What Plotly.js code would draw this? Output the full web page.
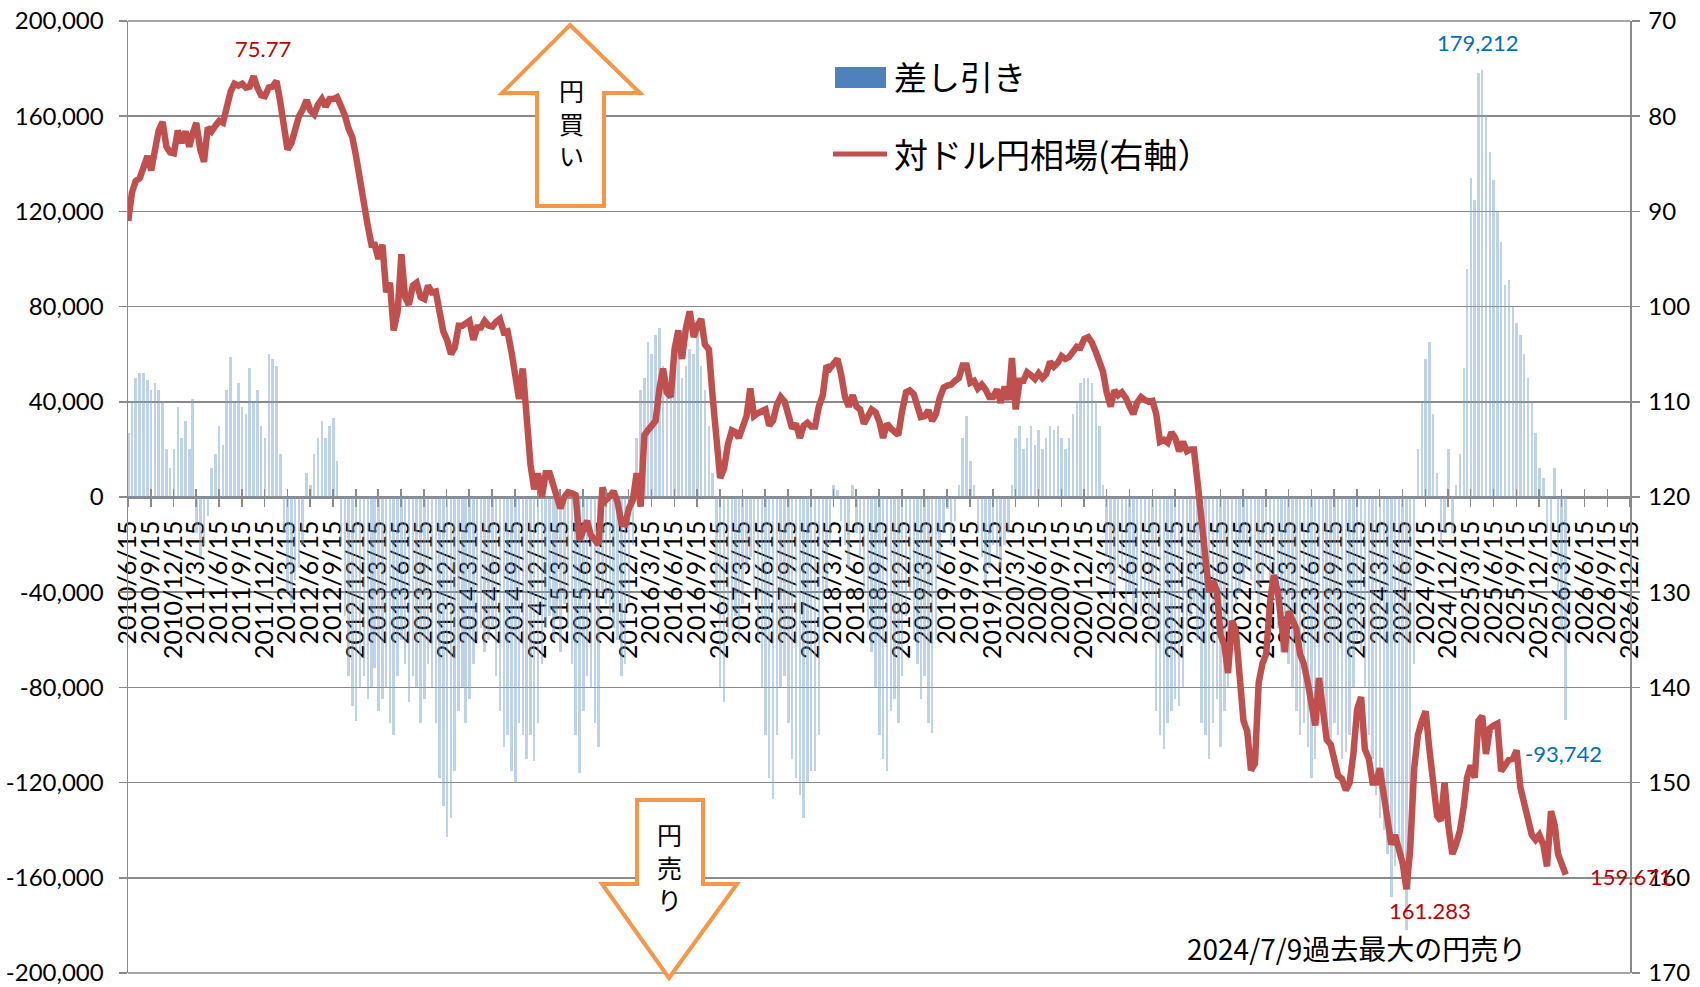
<!DOCTYPE html>
<html><head><meta charset="utf-8">
<script src="https://cdn.plot.ly/plotly-3.0.1.min.js"></script>
<style>html,body{margin:0;padding:0;background:#fff}#chart{width:1700px;height:987px}</style>
</head><body><div id="chart"></div>
<script>
// ---- USD/JPY (right axis), two readings per month (1st and 16th) ----
const fx2010 = [91.0, 88.0, 86.8, 86.5, 85.4, 84.2, 85.7, 83.5, 81.5, 80.6, 83.2, 83.8, 83.9]; // from Jun 16
const fx2011 = [81.5, 82.8, 81.6, 83.2, 81.9, 80.7, 83.5, 84.8, 81.2, 81.6, 81.0, 80.5, 80.7, 79.0, 77.4, 76.6, 76.8, 76.6, 77.0, 76.9, 75.8, 77.0, 77.8, 77.9];
const fx2012 = [77.0, 76.9, 76.3, 78.5, 81.0, 83.5, 82.8, 81.0, 80.0, 79.3, 78.3, 79.4, 79.8, 78.8, 78.2, 79.0, 78.2, 78.2, 78.0, 78.9, 79.9, 81.3, 82.2, 84.2];
const fx2013 = [87.0, 89.5, 91.5, 93.5, 93.5, 95.0, 93.5, 98.5, 97.5, 102.5, 100.5, 94.5, 99.0, 99.8, 97.8, 97.5, 99.0, 99.2, 97.8, 98.5, 98.4, 100.5, 102.6, 103.5];
const fx2014 = [105.0, 104.3, 102.0, 102.0, 101.8, 101.5, 103.5, 102.2, 102.2, 101.5, 102.0, 102.1, 101.6, 101.3, 102.7, 102.6, 104.8, 107.2, 109.7, 106.5, 112.5, 116.6, 119.2, 117.5];
const fx2015 = [120.0, 117.5, 117.5, 118.8, 119.7, 121.2, 120.0, 119.5, 119.6, 119.8, 124.5, 123.4, 122.5, 124.0, 124.5, 125.0, 119.0, 120.3, 119.9, 119.4, 120.6, 122.8, 122.9, 121.2];
const fx2016 = [120.3, 117.5, 121.0, 113.5, 113.0, 112.5, 112.0, 108.7, 106.5, 109.0, 109.5, 104.5, 102.5, 105.5, 102.2, 100.5, 103.2, 102.0, 101.3, 104.0, 104.5, 109.5, 114.0, 118.0];
const fx2017 = [117.0, 114.5, 113.0, 113.2, 113.8, 112.5, 111.5, 108.6, 111.5, 111.2, 111.0, 110.8, 112.5, 112.0, 110.3, 109.5, 110.0, 111.2, 112.8, 112.3, 113.8, 112.5, 112.2, 112.6];
const fx2018 = [112.6, 110.5, 109.3, 106.2, 106.5, 106.0, 105.5, 107.2, 109.5, 110.5, 109.3, 110.5, 110.8, 112.3, 111.5, 110.8, 111.1, 112.1, 113.8, 112.3, 112.8, 113.2, 113.5, 111.0];
const fx2019 = [109.0, 108.8, 109.2, 110.5, 111.6, 111.5, 110.9, 112.0, 111.3, 109.6, 108.5, 108.3, 108.2, 107.8, 107.5, 106.2, 106.2, 108.0, 107.8, 108.6, 108.2, 108.7, 109.5, 109.5];
const fx2020 = [108.7, 110.1, 108.4, 109.8, 105.4, 110.8, 107.8, 107.8, 106.9, 107.2, 107.6, 107.0, 107.5, 107.1, 105.8, 106.3, 105.9, 105.2, 105.5, 105.3, 104.7, 104.2, 104.3, 103.4];
const fx2021 = [103.2, 103.8, 104.8, 105.8, 106.8, 109.0, 110.5, 108.8, 109.3, 109.0, 109.6, 110.5, 111.3, 110.1, 109.5, 109.8, 110.0, 109.9, 111.3, 114.2, 114.0, 114.3, 113.2, 113.8];
const fx2022 = [115.2, 114.2, 115.2, 115.0, 115.0, 118.5, 122.5, 126.5, 130.0, 128.8, 129.8, 134.5, 135.5, 138.5, 133.0, 134.0, 139.5, 143.5, 144.6, 148.7, 148.0, 139.5, 137.5, 136.5];
const fx2023 = [131.0, 128.2, 130.0, 134.0, 136.3, 132.0, 132.8, 133.8, 136.5, 137.5, 139.5, 141.5, 144.0, 139.0, 142.8, 145.5, 146.0, 147.8, 149.3, 149.6, 150.8, 150.0, 147.0, 142.3];
const fx2024 = [141.0, 146.5, 147.5, 150.0, 150.0, 148.5, 151.3, 154.5, 156.5, 155.5, 157.0, 158.5, 161.2, 157.0, 148.5, 145.0, 143.5, 142.5, 146.5, 150.0, 153.5, 154.0, 150.0, 154.5];
const fx2025 = [157.5, 156.5, 155.0, 152.5, 149.5, 148.2, 149.5, 143.5, 143.0, 147.0, 144.3, 144.0, 143.8, 148.8, 148.2, 147.6, 147.5, 146.6, 150.5, 152.0, 153.5, 155.5, 156.0, 155.5];
const fx2026 = [156.5, 158.8, 153.0, 154.5, 157.5, 158.6, 159.67];

// ---- 差し引き (net position, contracts), same dates ----
const net2010 = [27000, 40000, 50000, 52000, 52000, 49000, 45000, 48000, 45000, 40000, 20000, 12000, 20000];
const net2011 = [38000, 25000, 32000, 20000, 41000, -15000, -25000, -20000, -8000, 12000, 18000, 30000, 22000, 45000, 59000, 40000, 48000, 38000, 35000, 54000, 40000, 45000, 30000, 25000];
const net2012 = [60000, 58000, 55000, 18000, -15000, -40000, -45000, -35000, -30000, -20000, 10000, 5000, 18000, 25000, 32000, 25000, 30000, 33000, 15000, -20000, -50000, -75000, -88000, -94000];
const net2013 = [-80000, -75000, -85000, -80000, -72000, -90000, -85000, -80000, -95000, -100000, -75000, -60000, -70000, -86000, -75000, -80000, -95000, -85000, -70000, -80000, -95000, -118000, -130000, -143000];
const net2014 = [-135000, -115000, -90000, -80000, -95000, -85000, -70000, -60000, -55000, -65000, -60000, -55000, -75000, -90000, -105000, -100000, -115000, -120000, -95000, -100000, -110000, -100000, -111000, -95000];
const net2015 = [-70000, -55000, -50000, -60000, -50000, -65000, -45000, -55000, -70000, -100000, -116000, -90000, -75000, -80000, -95000, -105000, -40000, -45000, -50000, -55000, -60000, -75000, -70000, -45000];
const net2016 = [-20000, 25000, 45000, 50000, 65000, 60000, 68000, 71000, 55000, 50000, 45000, 55000, 62000, 50000, 55000, 62000, 60000, 70000, 55000, 45000, 30000, 10000, -40000, -80000];
const net2017 = [-86000, -60000, -55000, -50000, -60000, -45000, -30000, -25000, -40000, -60000, -80000, -100000, -118000, -127000, -100000, -80000, -75000, -95000, -110000, -118000, -125000, -135000, -120000, -115000];
const net2018 = [-115000, -100000, -60000, -40000, -20000, 5000, 3000, -10000, -20000, -30000, 5000, -15000, -25000, -40000, -55000, -65000, -80000, -100000, -110000, -115000, -90000, -85000, -95000, -75000];
const net2019 = [-50000, -40000, -60000, -70000, -85000, -75000, -95000, -99000, -60000, -30000, -15000, -5000, -20000, -10000, 5000, 25000, 34000, 15000, 5000, -15000, -25000, -35000, -30000, -20000];
const net2020 = [-25000, -30000, -20000, -15000, 5000, 25000, 30000, 20000, 25000, 30000, 22000, 28000, 20000, 25000, 30000, 28000, 30000, 25000, 20000, 25000, 35000, 40000, 48000, 50000];
const net2021 = [50000, 48000, 40000, 30000, 5000, -25000, -45000, -40000, -30000, -35000, -45000, -40000, -50000, -45000, -50000, -45000, -55000, -50000, -90000, -100000, -106000, -95000, -90000, -85000];
const net2022 = [-88000, -80000, -60000, -50000, -45000, -60000, -95000, -100000, -110000, -95000, -85000, -105000, -90000, -80000, -60000, -45000, -40000, -35000, -30000, -35000, -40000, -45000, -35000, -30000];
const net2023 = [-50000, -40000, -55000, -65000, -60000, -70000, -80000, -90000, -100000, -95000, -105000, -118000, -110000, -95000, -90000, -100000, -105000, -95000, -100000, -110000, -107000, -100000, -80000, -60000];
const net2024 = [-65000, -80000, -100000, -110000, -125000, -135000, -140000, -150000, -168000, -155000, -150000, -160000, -182000, -165000, -70000, 20000, 40000, 58000, 65000, 35000, 10000, -20000, -15000, 20000];
const net2025 = [-15000, 5000, 18000, 54000, 96000, 134000, 125000, 178000, 179212, 160000, 145000, 133000, 120000, 107000, 89000, 91000, 80000, 73000, 68000, 60000, 50000, 40000, 27000, 12000];
const net2026 = [8000, -15000, -25000, 12000, -43000, -56000, -93742];

// ---- labels ----
const seriesBarName = '差し引き';
const seriesLineName = '対ドル円相場(右軸）';
const tickMonths = [3, 6, 9, 12];
const firstYear = 2010, lastYear = 2026;
const leftTicks = [-200000, -160000, -120000, -80000, -40000, 0, 40000, 80000, 120000, 160000, 200000];
const rightTicks = [70, 80, 90, 100, 110, 120, 130, 140, 150, 160, 170];
const noteText = '2024/7/9過去最大の円売り';
const peakFxLabel = '75.77', lowFxLabel = '161.283', lastFxLabel = '159.671';

// ---- assemble ----
const fxByYear = [fx2010, fx2011, fx2012, fx2013, fx2014, fx2015, fx2016, fx2017, fx2018, fx2019, fx2020, fx2021, fx2022, fx2023, fx2024, fx2025, fx2026];
const netByYear = [net2010, net2011, net2012, net2013, net2014, net2015, net2016, net2017, net2018, net2019, net2020, net2021, net2022, net2023, net2024, net2025, net2026];
const pad = n => String(n).padStart(2, '0');
const dates = [], fx = [], net = [];
fxByYear.forEach((arr, i) => {
  const year = firstYear + i;
  const startSlot = (year === firstYear) ? 24 - arr.length : 0;
  arr.forEach((v, j) => {
    const slot = startSlot + j;
    const month = Math.floor(slot / 2) + 1;
    const day = slot % 2 === 0 ? 1 : 16;
    dates.push(`${year}-${pad(month)}-${pad(day)}`);
    fx.push(v);
    net.push(netByYear[i][j]);
  });
});
const tickVals = [], tickText = [];
for (let y = firstYear; y <= lastYear; y++) {
  tickMonths.forEach(m => {
    if (y === firstYear && m < 6) return;
    tickVals.push(`${y}-${pad(m)}-15`);
    tickText.push(`${y}/${m}/15`);
  });
}
const xRange = [tickVals[0], tickVals[tickVals.length - 1]];
const lastIdx = dates.length - 1;
const peakNetIdx = net.indexOf(Math.max(...net));
const peakFxIdx = fx.indexOf(Math.min(...fx));
const lowFxIdx = fx.indexOf(Math.max(...fx));

// pixel helpers for decorative layout (plot area 128..1630 x 21..973)
const L = 128, R = 1630, T = 21, B = 973;
const px = X => (X - L) / (R - L);
const py = Y => (B - Y) / (B - T);
const path = pts => 'M' + pts.map(p => `${px(p[0]).toFixed(5)},${py(p[1]).toFixed(5)}`).join(' L') + ' Z';

const GRID = '#8a8a8a';
const NUMFONT = 'Lato, "Open Sans", sans-serif';
const JPFONT = '"Noto Sans CJK JP", "Noto Sans", sans-serif';

const traces = [
  {
    type: 'bar', name: seriesBarName, x: dates, y: net,
    width: 10 * 86400000,
    marker: {color: 'rgba(120,160,210,0.48)', line: {width: 0}},
    hoverinfo: 'x+y', showlegend: false
  },
  {
    type: 'scatter', mode: 'lines', name: seriesLineName, x: dates, y: fx, yaxis: 'y2',
    line: {color: '#C0504D', width: 6.5}, showlegend: false
  },
  { // carrier for the upward half of the crossing tick marks
    type: 'scatter', mode: 'markers', x: [xRange[0]], y: [0], xaxis: 'x2',
    marker: {opacity: 0}, hoverinfo: 'skip', showlegend: false
  }
];

const layout = {
  width: 1700, height: 987,
  margin: {l: L, r: 1700 - R, t: T, b: 987 - B, pad: 0},
  paper_bgcolor: '#ffffff', plot_bgcolor: '#ffffff',
  showlegend: false, bargap: 0,
  font: {family: NUMFONT, size: 24, color: '#000'},
  xaxis: {
    type: 'date', range: xRange, tickvals: tickVals, ticktext: tickText,
    tickangle: -90, tickfont: {family: NUMFONT, size: 25, color: '#000'},
    anchor: 'free', position: 0.5, showgrid: false, zeroline: false,
    showline: true, linecolor: GRID, linewidth: 1.5,
    ticks: 'outside', ticklen: 8, tickwidth: 1.5, tickcolor: GRID,
    ticklabelstandoff: 4, layer: 'below traces'
  },
  xaxis2: {
    type: 'date', range: xRange, tickvals: tickVals, overlaying: 'x',
    anchor: 'free', position: 0.5, showticklabels: false, showgrid: false, zeroline: false,
    ticks: 'inside', ticklen: 8, tickwidth: 1.5, tickcolor: GRID, showline: false
  },
  yaxis: {
    range: [-200000, 200000], tickvals: leftTicks,
    ticktext: leftTicks.map(v => v.toLocaleString('en-US')),
    tickfont: {family: NUMFONT, size: 24, color: '#000'},
    showgrid: true, gridcolor: GRID, gridwidth: 1.5, zeroline: false,
    showline: true, linecolor: GRID, linewidth: 1.5,
    ticks: 'outside', ticklen: 8, tickwidth: 1.5, tickcolor: GRID,
    ticklabelstandoff: 10
  },
  yaxis2: {
    overlaying: 'y', side: 'right', anchor: 'x',
    range: [170, 70], tickvals: rightTicks, ticktext: rightTicks.map(String),
    tickfont: {family: NUMFONT, size: 24, color: '#000'},
    showgrid: false, zeroline: false,
    showline: true, linecolor: GRID, linewidth: 1.5,
    ticks: 'outside', ticklen: 8, tickwidth: 1.5, tickcolor: GRID,
    ticklabelstandoff: 4
  },
  shapes: [
    {type: 'line', xref: 'paper', yref: 'paper', x0: 0, x1: 1, y0: 1, y1: 1, line: {color: GRID, width: 1.5}},
    {type: 'line', xref: 'paper', yref: 'paper', x0: 0, x1: 1, y0: 0, y1: 0, line: {color: GRID, width: 1.5}},
    // 円買い arrow
    {type: 'path', xref: 'paper', yref: 'paper', layer: 'above',
     path: path([[570, 25], [640, 93], [604, 93], [604, 206], [537, 206], [537, 93], [502, 93]]),
     fillcolor: '#ffffff', line: {color: '#F79646', width: 4}},
    // 円売り arrow
    {type: 'path', xref: 'paper', yref: 'paper', layer: 'above',
     path: path([[637, 800], [703, 800], [703, 884], [737, 884], [669, 978], [602, 884], [637, 884]]),
     fillcolor: '#ffffff', line: {color: '#F79646', width: 4}},
    // legend swatches
    {type: 'rect', xref: 'paper', yref: 'paper', x0: px(835), x1: px(886), y0: py(88), y1: py(67),
     fillcolor: '#4F81BD', line: {width: 0}},
    {type: 'line', xref: 'paper', yref: 'paper', x0: px(833), x1: px(887), y0: py(154), y1: py(154),
     line: {color: '#C0504D', width: 5}}
  ],
  annotations: [
    {xref: 'paper', yref: 'paper', x: px(892), y: py(76), xanchor: 'left', yanchor: 'middle',
     text: seriesBarName, showarrow: false, font: {family: JPFONT, size: 33, color: '#000'}},
    {xref: 'paper', yref: 'paper', x: px(892), y: py(154), xanchor: 'left', yanchor: 'middle',
     text: seriesLineName, showarrow: false, font: {family: JPFONT, size: 34, color: '#000'}},
    {xref: 'paper', yref: 'paper', x: px(571), y: py(123), xanchor: 'center', yanchor: 'middle',
     text: '円<br>買<br>い', showarrow: false, font: {family: JPFONT, size: 25, color: '#000'}},
    {xref: 'paper', yref: 'paper', x: px(669), y: py(866), xanchor: 'center', yanchor: 'middle',
     text: '円<br>売<br>り', showarrow: false, font: {family: JPFONT, size: 25, color: '#000'}},
    {x: dates[peakFxIdx], y: fx[peakFxIdx], yref: 'y2', xanchor: 'center', yanchor: 'bottom',
     xshift: 9, yshift: 12, text: peakFxLabel, showarrow: false,
     font: {family: NUMFONT, size: 22, color: '#C00000'}},
    {x: dates[peakNetIdx], y: net[peakNetIdx], yref: 'y', xanchor: 'center', yanchor: 'bottom',
     xshift: -4, yshift: 12, text: net[peakNetIdx].toLocaleString('en-US'), showarrow: false,
     font: {family: NUMFONT, size: 22, color: '#0070C0'}},
    {x: dates[lastIdx], y: net[lastIdx], yref: 'y', xanchor: 'center', yanchor: 'top',
     xshift: -2, yshift: -18, text: net[lastIdx].toLocaleString('en-US'), showarrow: false,
     font: {family: NUMFONT, size: 22, color: '#0070C0'}},
    {x: dates[lowFxIdx], y: fx[lowFxIdx], yref: 'y2', xanchor: 'center', yanchor: 'top',
     xshift: 24, yshift: -6, text: lowFxLabel, showarrow: false,
     font: {family: NUMFONT, size: 22, color: '#C00000'}},
    {x: dates[lastIdx], y: fx[lastIdx], yref: 'y2', xanchor: 'left', yanchor: 'middle',
     xshift: 22, yshift: -2, text: lastFxLabel, showarrow: false,
     font: {family: NUMFONT, size: 22, color: '#C00000'}},
    {xref: 'paper', yref: 'paper', x: px(1356), y: py(948), xanchor: 'center', yanchor: 'middle',
     text: noteText, showarrow: false, font: {family: JPFONT, size: 28, color: '#000'}}
  ]
};

Plotly.newPlot('chart', traces, layout, {displayModeBar: false, staticPlot: true});
</script></body></html>
